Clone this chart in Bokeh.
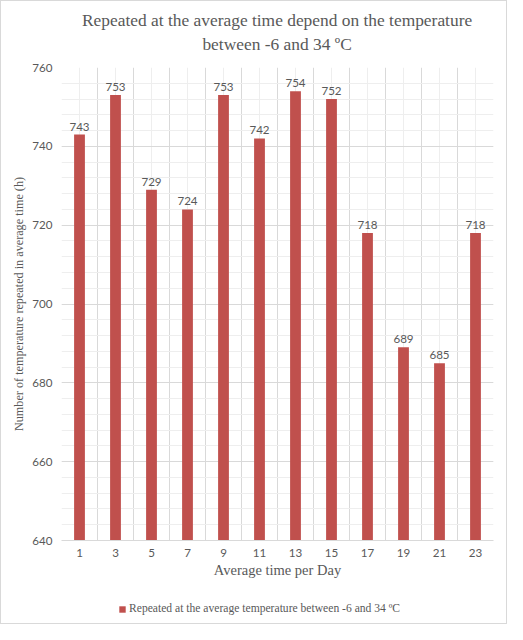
from bokeh.plotting import figure
from bokeh.layouts import column
from bokeh.models import (ColumnDataSource, FixedTicker, Label, Legend, LegendItem,
                          Range1d, SingleIntervalTicker)
from bokeh.core.properties import value
from bokeh.embed import file_html
from bokeh.resources import INLINE

# ---- data ----
hours = [1, 3, 5, 7, 9, 11, 13, 15, 17, 19, 21, 23]
repeated = [743, 753, 729, 724, 753, 742, 754, 752, 718, 689, 685, 718]
hour_labels = [str(h) for h in hours]
boundaries = [0, 2, 4, 6, 8, 10, 12, 14, 16, 18, 20, 22, 24]

title_lines = ["Repeated at the average time depend on the temperature",
               "between -6 and 34 \u00baC"]
x_title = "Average time per Day"
y_title = "Number of temperature repeated in average time (h)"
series_name = "Repeated at the average temperature between -6 and 34 \u00baC"

BAR = "#C0504D"
TXT = "#595959"
GRID = "#d9d9d9"
MINOR = "#eeeeee"
SERIF = "Liberation Serif"
SANS = "Lato"
W = 505

# ---- title strip ----
pt = figure(width=W, height=56, output_backend="svg", toolbar_location=None,
            x_range=Range1d(0, W), y_range=Range1d(56, 0),
            x_axis_type=None, y_axis_type=None, min_border=0)
pt.outline_line_color = None
for yy, line in zip([18, 42], title_lines):
    pt.add_layout(Label(x=252, y=yy, text=line, text_align="center",
                        text_baseline="middle", text_font=SERIF,
                        text_font_size="17.4px", text_color=TXT))

# ---- main chart ----
src = ColumnDataSource(dict(x=hours, top=repeated, lbl=[str(v) for v in repeated]))

p = figure(width=W, height=530, output_backend="svg", toolbar_location=None,
           title=None, x_range=Range1d(0, 24), y_range=Range1d(640, 760),
           min_border_left=60, min_border_right=13, min_border_top=10,
           min_border_bottom=47)
p.outline_line_color = None

p.vbar(x="x", top="top", bottom=640, width=0.6, source=src,
       fill_color=BAR, line_color=None)
p.text(x="x", y="top", text="lbl", source=src, y_offset=-4,
       text_align="center", text_baseline="bottom",
       text_font=value(SANS), text_font_size="11.6px", text_color=TXT)

p.xaxis.ticker = FixedTicker(ticks=hours)
p.xaxis.major_label_overrides = {h: s for h, s in zip(hours, hour_labels)}
p.xaxis.axis_label = x_title
p.xaxis.axis_label_text_font = SERIF
p.xaxis.axis_label_text_font_style = "normal"
p.xaxis.axis_label_text_font_size = "14.5px"
p.xaxis.axis_label_text_color = TXT
p.xaxis.axis_label_standoff = 2
p.xaxis.major_label_text_font = SANS
p.xaxis.major_label_text_font_size = "11.6px"
p.xaxis.major_label_text_color = TXT
p.xaxis.major_label_standoff = 8
p.xaxis.axis_line_color = GRID
p.xaxis.major_tick_line_color = None
p.xaxis.minor_tick_line_color = None
p.xaxis.major_tick_out = 0
p.xaxis.minor_tick_out = 0

p.yaxis.ticker = SingleIntervalTicker(interval=20, num_minor_ticks=5)
p.yaxis.axis_label = y_title
p.yaxis.axis_label_text_font = SERIF
p.yaxis.axis_label_text_font_style = "normal"
p.yaxis.axis_label_text_font_size = "12.2px"
p.yaxis.axis_label_text_color = TXT
p.yaxis.axis_label_standoff = 3
p.yaxis.major_label_text_font = SANS
p.yaxis.major_label_text_font_size = "11.6px"
p.yaxis.major_label_text_color = TXT
p.yaxis.major_label_standoff = 9
p.yaxis.axis_line_color = None
p.yaxis.major_tick_line_color = None
p.yaxis.minor_tick_line_color = None
p.yaxis.major_tick_out = 0
p.yaxis.minor_tick_out = 0

p.ygrid.grid_line_color = GRID
p.ygrid.minor_grid_line_color = MINOR
p.xgrid.ticker = FixedTicker(ticks=boundaries, minor_ticks=hours)
p.xgrid.grid_line_color = GRID
p.xgrid.minor_grid_line_color = MINOR

# ---- legend strip ----
pl = figure(width=W, height=36, output_backend="svg", toolbar_location=None,
            x_range=Range1d(0, 1), y_range=Range1d(0, 1),
            x_axis_type=None, y_axis_type=None, min_border=0)
pl.outline_line_color = None
# hidden copy of the series, used only to draw the legend swatch
swatch = pl.vbar(x="x", top="top", bottom=640, width=0.6,
                 source=ColumnDataSource(dict(x=hours, top=repeated)),
                 fill_color=BAR, line_color=None, visible=False)
legend = Legend(items=[LegendItem(label=series_name, renderers=[swatch])],
                location=(57, 8), orientation="horizontal",
                label_text_font=SERIF, label_text_font_size="11.6px",
                label_text_color=TXT, glyph_width=8, glyph_height=8,
                border_line_color=None, background_fill_alpha=0,
                inactive_fill_alpha=0,
                padding=2, margin=0, label_standoff=3)
pl.add_layout(legend, "center")

page = column(pt, p, pl, spacing=0)
page.styles = {"border": "1px solid #d9d9d9"}

open("out.html", "w").write(file_html(page, INLINE))
